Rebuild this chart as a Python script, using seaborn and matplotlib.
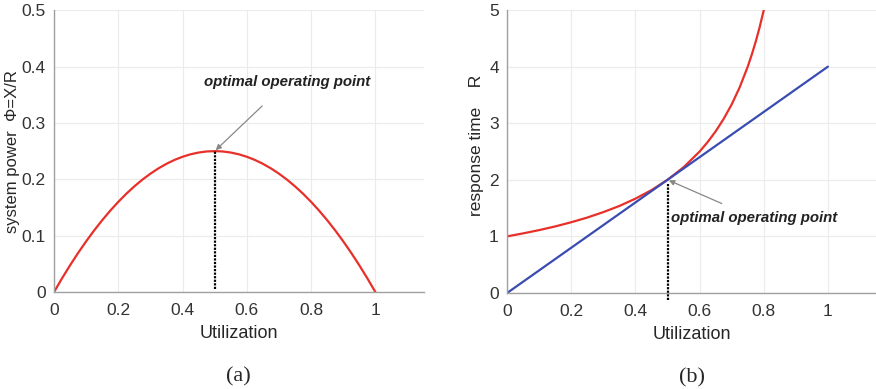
import numpy as np
import pandas as pd
import matplotlib
matplotlib.use('Agg')
import matplotlib.pyplot as plt
import seaborn as sns

# values
u_power = [0, 0.025, 0.05, 0.075, 0.1, 0.125, 0.15, 0.175, 0.2, 0.225, 0.25, 0.275,
           0.3, 0.325, 0.35, 0.375, 0.4, 0.425, 0.45, 0.475, 0.5, 0.525, 0.55, 0.575,
           0.6, 0.625, 0.65, 0.675, 0.7, 0.725, 0.75, 0.775, 0.8, 0.825, 0.85, 0.875,
           0.9, 0.925, 0.95, 0.975, 1.0]
power = [0, 0.0244, 0.0475, 0.0694, 0.09, 0.1094, 0.1275, 0.1444, 0.16, 0.1744,
         0.1875, 0.1994, 0.21, 0.2194, 0.2275, 0.2344, 0.24, 0.2444, 0.2475, 0.2494,
         0.25, 0.2494, 0.2475, 0.2444, 0.24, 0.2344, 0.2275, 0.2194, 0.21, 0.1994,
         0.1875, 0.1744, 0.16, 0.1444, 0.1275, 0.1094, 0.09, 0.0694, 0.0475, 0.0244, 0]
u_resp = [0, 0.05, 0.1, 0.15, 0.2, 0.25, 0.3, 0.35, 0.4, 0.45, 0.5, 0.55, 0.6,
          0.625, 0.65, 0.675, 0.7, 0.725, 0.75, 0.7625, 0.775, 0.7875, 0.8]
resp = [1.0, 1.053, 1.111, 1.176, 1.25, 1.333, 1.429, 1.538, 1.667, 1.818, 2.0, 2.222, 2.5,
        2.667, 2.857, 3.077, 3.333, 3.636, 4.0, 4.211, 4.444, 4.706, 5.0]
u_line = [0, 1.0]
r_line = [0, 4.0]

red = '#e8302a'
blue = '#3a4cb2'

sns.set_style('white')
plt.rcParams['font.family'] = ['Liberation Sans', 'DejaVu Sans']

fig = plt.figure(figsize=(8.76, 3.89), dpi=100)
ax1 = fig.add_axes([0.0616, 0.249, 0.422, 0.725])
ax2 = fig.add_axes([0.579, 0.247, 0.421, 0.727])

dots = (0, (1, 0.6))

sns.lineplot(x=u_power, y=power, ax=ax1, color=red, lw=1.6)
ax1.plot([0.5, 0.5], [0.005, 0.25], color='black', ls=dots, lw=1.6)
ax1.annotate('optimal operating point', xy=(0.5, 0.25), xytext=(0.725, 0.372),
             ha='center', va='center', fontsize=10.8, fontweight='bold', fontstyle='italic',
             color='#222222',
             arrowprops=dict(arrowstyle='-|>', color='#888888', lw=0.9,
                             shrinkA=14, shrinkB=1, mutation_scale=8))
ax1.set_xlim(0, 1.15)
ax1.set_ylim(0, 0.5)
ax1.set_yticks([0, 0.1, 0.2, 0.3, 0.4, 0.5])
ax1.set_yticklabels(['0', '0.1', '0.2', '0.3', '0.4', '0.5'])
ax1.set_ylabel('system power  Φ=X/R', fontsize=12)
ax1.yaxis.set_label_coords(-0.092, 0.5)

sns.lineplot(x=u_resp, y=resp, ax=ax2, color=red, lw=1.6)
sns.lineplot(x=u_line, y=r_line, ax=ax2, color=blue, lw=1.6)
ax2.plot([0.5, 0.5], [-0.12, 1.95], color='black', ls=dots, lw=1.6, clip_on=False)
ax2.annotate('optimal operating point', xy=(0.5, 2.0), xytext=(0.77, 1.33),
             ha='center', va='center', fontsize=10.8, fontweight='bold', fontstyle='italic',
             color='#222222',
             arrowprops=dict(arrowstyle='-|>', color='#888888', lw=0.9,
                             shrinkA=7, shrinkB=1, mutation_scale=8))
ax2.set_xlim(0, 1.15)
ax2.set_ylim(0, 5)
ax2.set_yticks([0, 1, 2, 3, 4, 5])
ax2.set_ylabel('response time    R', fontsize=12.5)
ax2.yaxis.set_label_coords(-0.064, 0.52)

for ax, lab in [(ax1, '(a)'), (ax2, '(b)')]:
    ax.set_xticks([0, 0.2, 0.4, 0.6, 0.8, 1])
    ax.set_xticklabels(['0', '0.2', '0.4', '0.6', '0.8', '1'])
    ax.set_xlabel('Utilization', fontsize=13, labelpad=5)
    ax.grid(True, color='#ebebeb', lw=0.8)
    ax.set_axisbelow(True)
    for s in ['top', 'right']:
        ax.spines[s].set_visible(False)
    for s in ['left', 'bottom']:
        ax.spines[s].set_color('#a0a0a0')
        ax.spines[s].set_linewidth(1.0)
    ax.tick_params(direction='in', length=3, color='#a0a0a0', labelsize=12.5,
                   labelcolor='#333333', pad=6)
    ax.tick_params(axis='x', pad=8)
    ax.text(0.5, -0.3, lab, transform=ax.transAxes, ha='center', va='center',
            fontsize=16, family='Liberation Serif')

fig.savefig('out.png', dpi=100)
